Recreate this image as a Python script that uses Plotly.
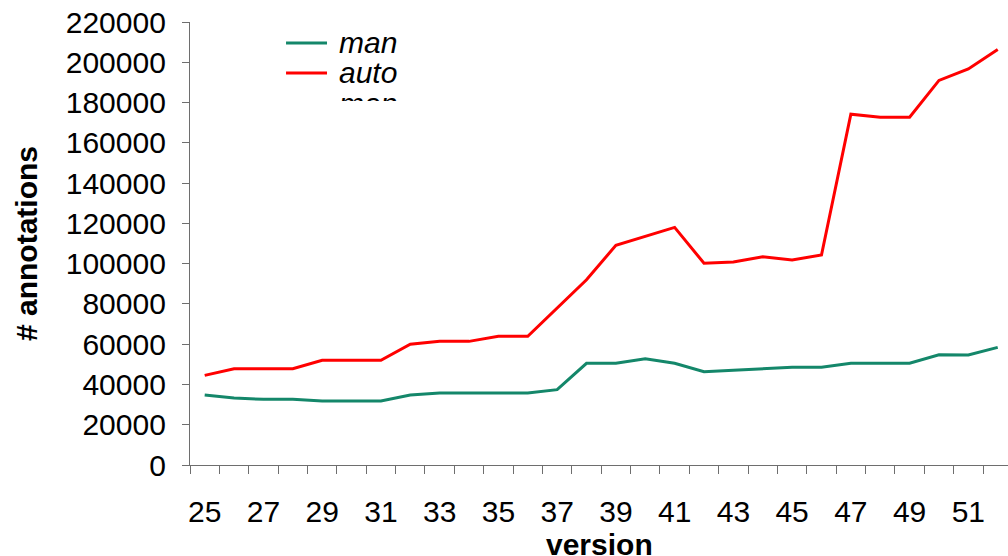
import plotly.graph_objects as go

versions = list(range(25, 53))
man = [34800, 33300, 32600, 32600, 31800, 31800, 31800, 34800, 35700, 35700,
       35700, 35700, 37400, 50500, 50500, 52800, 50500, 46300, 47000, 47800,
       48600, 48600, 50500, 50500, 50500, 54700, 54600, 58400]
auto = [44500, 47800, 47800, 47800, 52000, 52000, 52000, 60000, 61400, 61400,
        63900, 63900, 78000, 92000, 109100, 113400, 118000, 100200, 100800, 103400,
        101800, 104300, 174200, 172700, 172700, 191000, 196700, 206400]
ytick_vals = list(range(0, 220001, 20000))
xlabel_vals = list(range(25, 52, 2))
boundaries = [v - 0.5 for v in range(25, 54)]

GREEN = "#14876a"
RED = "#ff0000"
FONT = "Liberation Sans, Arial, sans-serif"

fig = go.Figure()
fig.add_trace(go.Scatter(x=versions, y=man, mode="lines", name="man",
                         line=dict(color=GREEN, width=3), showlegend=False))
fig.add_trace(go.Scatter(x=versions, y=auto, mode="lines", name="auto",
                         line=dict(color=RED, width=3), showlegend=False))

# custom legend (paper coordinates)
legend_items = [("man", GREEN, 0.9526), ("auto", RED, 0.8849)]
for name, col, yy in legend_items:
    fig.add_shape(type="line", xref="paper", yref="paper", x0=0.1174, x1=0.1675,
                  y0=yy, y1=yy, line=dict(color=col, width=3))
    fig.add_annotation(xref="paper", yref="paper", x=0.1797, y=yy, text="<i>" + name + "</i>",
                       showarrow=False, xanchor="left", yanchor="middle",
                       font=dict(family=FONT, size=30, color="black"))
# clipped third legend entry
fig.add_annotation(xref="paper", yref="paper", x=0.1797, y=0.858, text="<i>man</i>",
                   showarrow=False, xanchor="left", yanchor="top", height=14,
                   valign="top", font=dict(family=FONT, size=30, color="black"))

# x-axis title (sits at the very bottom edge, as in the original)
fig.add_annotation(xref="paper", yref="paper", x=0.5, y=-0.179, text="<b>version</b>",
                   showarrow=False, xanchor="center", yanchor="middle",
                   font=dict(family=FONT, size=30, color="black"))

fig.update_layout(
    width=1008, height=556,
    margin=dict(l=190, r=0, t=22, b=91, autoexpand=False),
    paper_bgcolor="white", plot_bgcolor="white",
    font=dict(family=FONT, size=30, color="black"),
    xaxis=dict(
        range=[24.5, 52.35], showgrid=False, zeroline=False, automargin=False,
        showline=True, linecolor="#6e6e6e", linewidth=1.3,
        tickmode="array", tickvals=xlabel_vals, ticktext=[str(v) for v in xlabel_vals],
        ticks="outside", ticklen=20, tickcolor="rgba(0,0,0,0)",
        tickfont=dict(family=FONT, size=30),
        minor=dict(tickmode="array", tickvals=boundaries, ticks="outside",
                   ticklen=8, tickcolor="#6e6e6e", tickwidth=1.3, showgrid=False),
    ),
    yaxis=dict(
        range=[0, 220000], showgrid=False, zeroline=False, automargin=False,
        showline=True, linecolor="#6e6e6e", linewidth=1.3,
        tickmode="array", tickvals=ytick_vals, ticktext=[str(v) for v in ytick_vals],
        ticks="outside", ticklen=7, tickcolor="#6e6e6e", tickwidth=1.3,
        ticklabelstandoff=10,
        tickfont=dict(family=FONT, size=30),
        title=dict(text="<b># annotations</b>", font=dict(family=FONT, size=30), standoff=19),
    ),
)

fig.write_html("out.html", config={"displayModeBar": False},
               post_script="document.body.style.margin='0';document.body.style.padding='0';")
